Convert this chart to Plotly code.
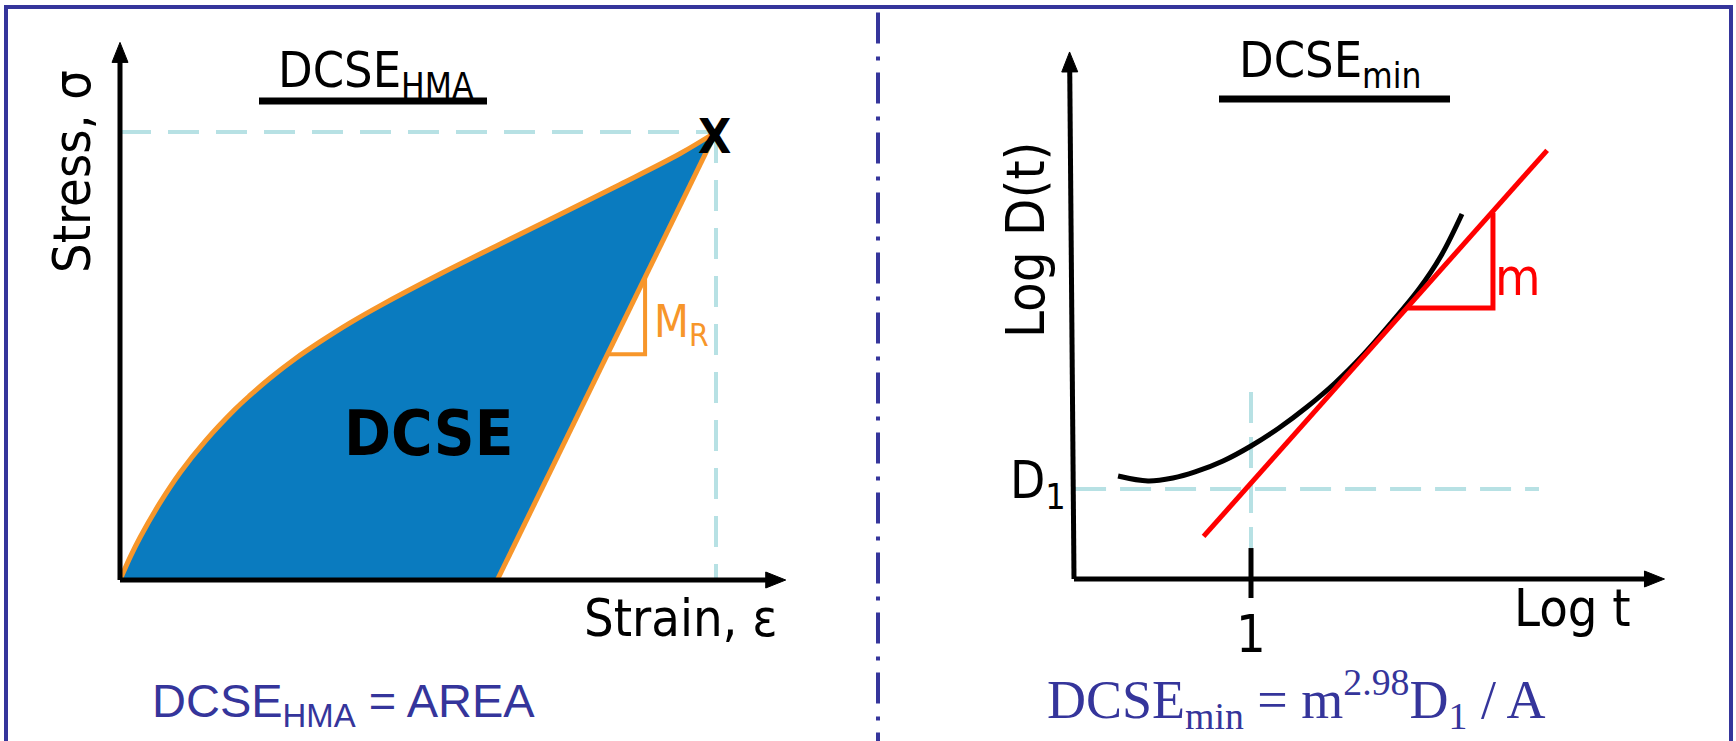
import math
import plotly.graph_objects as go

# ---------------- left panel: stress-strain loop of the mixture ----------------
strain_loading = [0.0, 0.017, 0.034, 0.067, 0.101, 0.143, 0.193, 0.218, 0.252, 0.294,
                  0.336, 0.386, 0.436, 0.537, 0.638, 0.738, 0.839, 0.940, 1.0]
stress_loading = [0.0, 0.051, 0.096, 0.172, 0.240, 0.310, 0.381, 0.412, 0.451, 0.494,
                  0.532, 0.574, 0.612, 0.683, 0.750, 0.816, 0.883, 0.952, 1.0]
strain_unloading = [1.0, 0.633]
stress_unloading = [1.0, 0.0]
mr_strain = [0.818, 0.881, 0.881]
mr_stress = [0.504, 0.504, 0.676]
peak_strain = 1.0
peak_stress = 1.0
strain_axis_max = 1.117
stress_axis_max = 1.2

# ---------------- right panel: creep compliance on log-log scales ----------------
log_t = [0.249, 0.418, 0.559, 0.684, 0.842, 1.0, 1.158, 1.316, 1.475, 1.633,
         1.791, 1.949, 2.073, 2.192]
log_d = [1.144, 1.089, 1.122, 1.189, 1.311, 1.478, 1.678, 1.911, 2.178, 2.489,
         2.844, 3.222, 3.589, 4.056]
tangent_log_t = [0.732, 2.673]
tangent_log_d = [0.473, 4.763]
slope_log_t = [1.884, 2.367, 2.367]
slope_log_d = [3.011, 3.011, 4.070]
log_t_one = 1.0
log_d1 = 1.0
log_t_axis_max = 3.336
log_d_axis_tip = [-0.025, 5.856]
one_tick_span = [0.344, -0.211]
one_guide_span = [2.078, 0.344]
d1_guide_span = [0.006, 2.627]

# ---------------- page geometry ----------------
W, H = 1736, 741
SPLIT = 878
LEFT = dict(ox=120, oy=580, sx=596, sy=448)
RIGHT = dict(ox=1074, oy=579, sx=177, sy=90)

NAVY = "#35359b"
BLUE = "#0a7bbf"
ORANGE = "#f7962a"
GUIDE = "#b7e1e4"
RED = "#ff0000"
SANS = "DejaVu Sans Condensed, DejaVu Sans, sans-serif"


def to_px(p, x, y):
    return p["ox"] + x * p["sx"], p["oy"] - y * p["sy"]


def to_data(p, X, Y):
    return (X - p["ox"]) / p["sx"], (p["oy"] - Y) / p["sy"]


def arrow(p, tail, tip, length=20, half=8):
    """Shaft (tail -> base of head) and a filled triangular head, in data units."""
    tx, ty = to_px(p, *tip)
    bx, by = to_px(p, *tail)
    n = math.hypot(tx - bx, ty - by)
    ux, uy = (tx - bx) / n, (ty - by) / n
    cx, cy = tx - ux * length, ty - uy * length
    head = [(tx, ty), (cx - uy * half, cy + ux * half), (cx + uy * half, cy - ux * half), (tx, ty)]
    head = [to_data(p, *q) for q in head]
    shaft_end = to_data(p, tx - ux * (length - 2), ty - uy * (length - 2))
    return shaft_end, head


fig = go.Figure()


def line(xs, ys, color, width, axes, dash=None, shape="linear"):
    fig.add_trace(go.Scatter(x=xs, y=ys, mode="lines", xaxis=axes[0], yaxis=axes[1],
                             line=dict(color=color, width=width, dash=dash, shape=shape),
                             hoverinfo="skip", showlegend=False))


def polygon(xs, ys, color, axes):
    fig.add_trace(go.Scatter(x=xs, y=ys, mode="lines", fill="toself", fillcolor=color,
                             line=dict(color=color, width=1), xaxis=axes[0], yaxis=axes[1],
                             hoverinfo="skip", showlegend=False))


def draw_axis(p, axes, tail, tip):
    end, head = arrow(p, tail, tip)
    line([tail[0], end[0]], [tail[1], end[1]], "black", 5, axes)
    polygon([q[0] for q in head], [q[1] for q in head], "black", axes)


L_AX = ("x", "y")
R_AX = ("x2", "y2")

# left: area under the loading path, minus the part under the unloading path
fig.add_trace(go.Scatter(x=strain_loading, y=stress_loading, mode="lines", fill="tozeroy",
                         fillcolor=BLUE, line=dict(color=BLUE, width=0, shape="spline"),
                         xaxis="x", yaxis="y", hoverinfo="skip", showlegend=False))
polygon([strain_unloading[1], strain_unloading[0], strain_unloading[0], strain_unloading[1]],
        [stress_unloading[1], stress_unloading[0], 0, stress_unloading[1]], "white", L_AX)

# left: dashed guides to the peak
line([0, peak_strain], [peak_stress, peak_stress], GUIDE, 4, L_AX, dash="31px,17px")
line([peak_strain, peak_strain], [peak_stress, 0], GUIDE, 4, L_AX, dash="31px,17px")

# left: loading / unloading paths and the resilient modulus triangle
line(strain_loading, stress_loading, ORANGE, 5, L_AX, shape="spline")
line(strain_unloading, stress_unloading, ORANGE, 5, L_AX)
line(mr_strain, mr_stress, ORANGE, 4, L_AX)

# left: axes
draw_axis(LEFT, L_AX, (0, 0), (0, stress_axis_max))
draw_axis(LEFT, L_AX, (0, 0), (strain_axis_max, 0))

# right: dashed guides at log t = 1 and D1
line([log_t_one, log_t_one], one_guide_span, GUIDE, 4, R_AX, dash="31px,14px")
line(d1_guide_span, [log_d1, log_d1], GUIDE, 4, R_AX, dash="31px,14px")

# right: compliance curve, tangent and slope triangle
line(log_t, log_d, "black", 5, R_AX, shape="spline")
line(tangent_log_t, tangent_log_d, RED, 5, R_AX)
line(slope_log_t, slope_log_d, RED, 5, R_AX)

# right: axes and the tick at 1
draw_axis(RIGHT, R_AX, (0, 0), tuple(log_d_axis_tip))
draw_axis(RIGHT, R_AX, (0, 0), (log_t_axis_max, 0))
line([log_t_one, log_t_one], one_tick_span, "black", 5, R_AX)


def label(text, xpx, ypx, size, color="black", family=SANS, angle=0, anchor="center", bold=False):
    fig.add_annotation(x=xpx / W, y=1 - ypx / H, xref="paper", yref="paper", text=text,
                       showarrow=False, xanchor=anchor, yanchor="middle", textangle=angle,
                       font=dict(family=family, size=size, color=color,
                                 weight="bold" if bold else "normal"))


# left panel texts
label("DCSE<sub>HMA</sub>", 276, 73, 50, anchor="left")
label("Stress, σ", 72, 172, 52, angle=-90)
label("Strain, ε", 681, 618, 52)
label("DCSE", 428, 433, 63, bold=True)
px_peak = to_px(LEFT, peak_strain, peak_stress)
label("X", px_peak[0] - 2, px_peak[1] + 4, 48, bold=True)
label("M<sub>R</sub>", 652, 324, 45, color=ORANGE, anchor="left")
label("DCSE<sub>HMA</sub> = AREA", 150, 704, 47, color=NAVY,
      family="Liberation Sans, Arial, sans-serif", anchor="left")

# right panel texts
label("DCSE<sub>min</sub>", 1237, 63, 50, anchor="left")
label("Log D(t)", 1026, 240, 54, angle=-90)
label("Log t", 1572, 608, 52)
px_one = to_px(RIGHT, log_t_one, 0)
label("1", px_one[0], 634, 52)
label("D<sub>1</sub>", 1008, 484, 51, anchor="left")
label("m", 1493, 277, 52, color=RED, anchor="left")
label("DCSE<sub>min</sub> = m<sup>2.98</sup>D<sub>1</sub> / A", 1045, 699, 54, color=NAVY,
      family="Liberation Serif, Times New Roman, serif", anchor="left")

# frame, panel divider and title rules
shapes = []


def pline(x0, y0, x1, y1, color, width, dash=None):
    shapes.append(dict(type="line", xref="paper", yref="paper", x0=x0 / W, y0=1 - y0 / H,
                       x1=x1 / W, y1=1 - y1 / H, line=dict(color=color, width=width, dash=dash)))


pline(4, 7, 1733, 7, NAVY, 4)
pline(6, 7, 6, H + 5, NAVY, 4)
pline(1731, 7, 1731, H + 5, NAVY, 4)
pline(SPLIT, 12.5, SPLIT, H + 5, NAVY, 4, dash="31px,13px,4px,12px")
pline(259, 101, 487, 101, "black", 7)
pline(1219, 99, 1450, 99, "black", 7)

ax_common = dict(visible=False, showgrid=False, zeroline=False, fixedrange=True)
lx0 = to_data(LEFT, 0, H)
lx1 = to_data(LEFT, SPLIT, 0)
rx0 = to_data(RIGHT, SPLIT, H)
rx1 = to_data(RIGHT, W, 0)

fig.update_layout(
    width=W, height=H, margin=dict(l=0, r=0, t=0, b=0),
    paper_bgcolor="white", plot_bgcolor="white", showlegend=False,
    shapes=shapes,
    xaxis=dict(domain=[0, SPLIT / W], range=[lx0[0], lx1[0]], anchor="y", **ax_common),
    yaxis=dict(domain=[0, 1], range=[lx0[1], lx1[1]], anchor="x", **ax_common),
    xaxis2=dict(domain=[SPLIT / W, 1], range=[rx0[0], rx1[0]], anchor="y2", **ax_common),
    yaxis2=dict(domain=[0, 1], range=[rx0[1], rx1[1]], anchor="x2", **ax_common),
)

fig.write_html("out.html")
